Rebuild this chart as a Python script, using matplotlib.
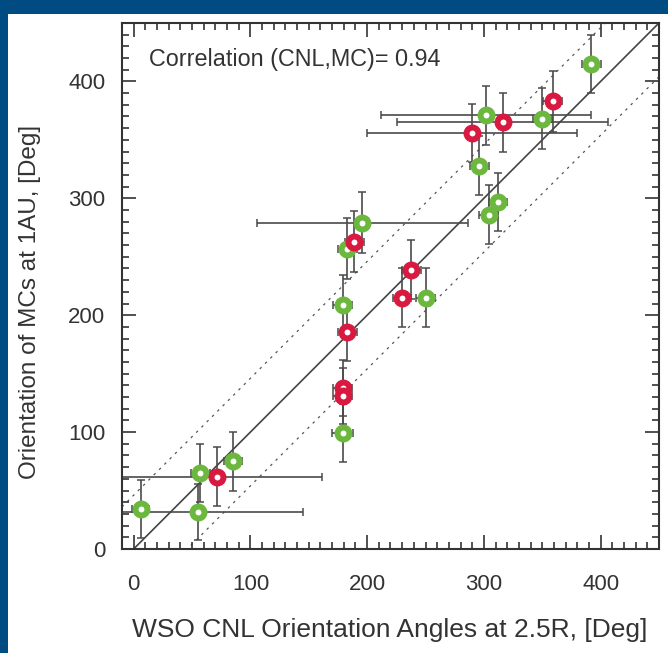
import matplotlib.pyplot as plt
from matplotlib.patches import Rectangle
from matplotlib.ticker import MultipleLocator

plt.rcParams['font.family'] = ['Liberation Sans', 'DejaVu Sans']

# WSO CNL orientation (x) vs MC orientation at 1AU (y)
green_x = [6, 55, 57, 85, 179, 179, 183, 196, 250, 304, 312, 296, 302, 350, 392]
green_y = [34, 32, 65, 75, 99, 209, 257, 279, 215, 286, 297, 328, 371, 368, 415]
green_xerr = [7, 90, 8, 8, 9, 8, 8, 90, 8, 8, 8, 8, 90, 8, 8]
green_yerr = [25, 24, 25, 25, 25, 25, 26, 26, 25, 25, 25, 25, 25, 26, 25]

red_x = [71, 179, 179, 183, 189, 230, 238, 290, 316, 359]
red_y = [62, 138, 131, 186, 263, 215, 239, 356, 365, 383]
red_xerr = [90, 8, 8, 8, 8, 8, 8, 90, 90, 8]
red_yerr = [25, 24, 24, 25, 26, 25, 25, 25, 25, 26]

corr_text = 'Correlation (CNL,MC)= 0.94'
band = 46
line_x = [-10, 450]

fig = plt.figure(figsize=(6.68, 6.53), dpi=100, facecolor='#004b82')
fig.add_artist(Rectangle((8 / 668, 0), 1, 1 - 14 / 653, transform=fig.transFigure,
                         facecolor='white', edgecolor='none', zorder=0))
ax = fig.add_axes([0.1826, 0.1593, 0.8039, 0.8055])

# reference lines
ax.plot(line_x, line_x, color='#444444', lw=1.2, zorder=1)
ax.plot(line_x, [v + band for v in line_x], color='#555555', lw=0.9, ls=(0, (2, 4)), zorder=1)
ax.plot(line_x, [v - band for v in line_x], color='#555555', lw=0.9, ls=(0, (2, 4)), zorder=1)

for xs, ys, xe, ye, c in [(green_x, green_y, green_xerr, green_yerr, '#6cb83f'),
                          (red_x, red_y, red_xerr, red_yerr, '#d91a40')]:
    ax.errorbar(xs, ys, xerr=xe, yerr=ye, fmt='none', ecolor='#4a4a4a',
                elinewidth=1.2, capsize=2.6, capthick=1.1, zorder=2)
    ax.plot(xs, ys, 'o', ms=8.6, mew=4.3, mec=c, mfc='white', ls='none', zorder=3)

ax.text(13, 419, corr_text, fontsize=16.8, va='center', color='#333333')

ax.set_xlim(-10, 450)
ax.set_ylim(0, 450)
ax.xaxis.set_major_locator(MultipleLocator(100))
ax.xaxis.set_minor_locator(MultipleLocator(10))
ax.yaxis.set_major_locator(MultipleLocator(100))
ax.yaxis.set_minor_locator(MultipleLocator(10))
ax.tick_params(which='both', direction='in', top=True, right=True,
               width=1.2, color='#333333', labelsize=16, labelcolor='#333333')
ax.tick_params(which='major', length=10)
ax.tick_params(which='minor', length=5)
ax.tick_params(axis='x', pad=18)
ax.tick_params(axis='y', pad=12)
for s in ax.spines.values():
    s.set_linewidth(1.5)
    s.set_color('#333333')

ax.set_xlabel('WSO CNL Orientation Angles at 2.5R, [Deg]', fontsize=19, color='#333333')
ax.set_ylabel('Orientation of MCs at 1AU, [Deg]', fontsize=17.5, color='#333333')
ax.xaxis.label.set_va('center')
ax.yaxis.label.set_va('center')
ax.xaxis.set_label_coords(0.498, -0.154)
ax.yaxis.set_label_coords(-0.171, 0.469)

plt.savefig('out.png', dpi=100, facecolor=fig.get_facecolor())
